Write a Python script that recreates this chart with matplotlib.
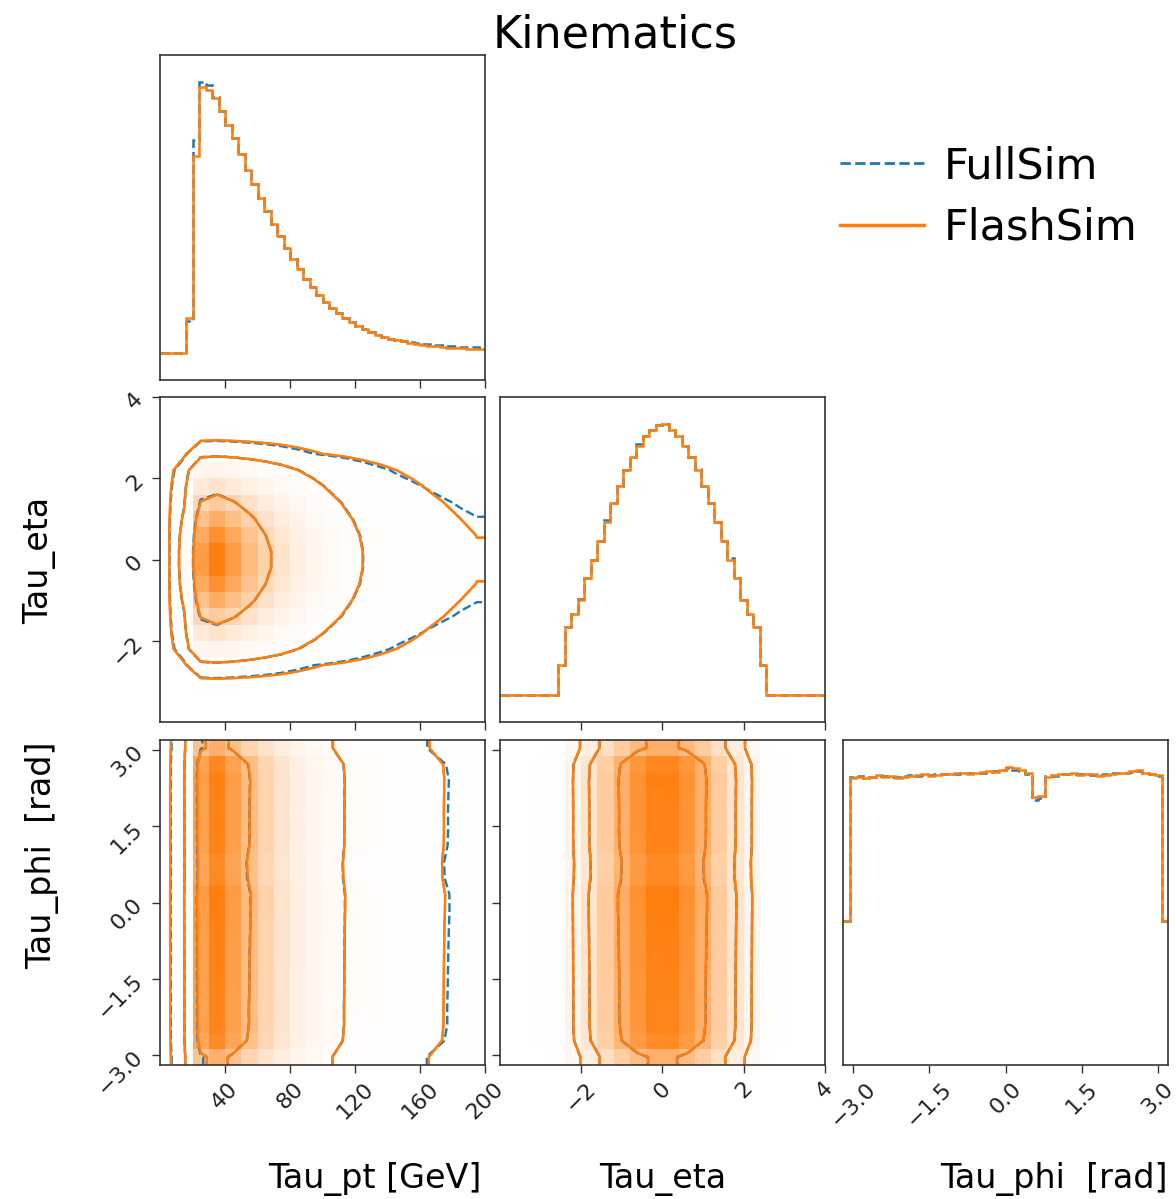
import numpy as np
import matplotlib
matplotlib.use("Agg")
import matplotlib.pyplot as plt
from matplotlib.colors import LinearSegmentedColormap
from matplotlib.lines import Line2D

# 1D histogram contents (50 bins each), peak ~ 1
pt_edges = np.linspace(0, 200, 51)
pt_flash = [0, 0, 0, 0, 0.13, 0.74, 1.00, 0.99, 0.96, 0.91,
            0.86, 0.81, 0.75, 0.69, 0.635, 0.585, 0.535, 0.485, 0.44, 0.395,
            0.355, 0.315, 0.28, 0.248, 0.22, 0.193, 0.17, 0.149, 0.131, 0.115,
            0.101, 0.089, 0.078, 0.069, 0.061, 0.054, 0.048, 0.043, 0.038, 0.034,
            0.030, 0.027, 0.025, 0.022, 0.020, 0.019, 0.017, 0.016, 0.015, 0.014]
pt_full = [0, 0, 0, 0, 0.12, 0.80, 1.02, 1.01, 0.965, 0.91,
           0.86, 0.81, 0.75, 0.69, 0.635, 0.585, 0.535, 0.485, 0.44, 0.395,
           0.355, 0.315, 0.28, 0.248, 0.22, 0.193, 0.17, 0.149, 0.131, 0.115,
           0.101, 0.089, 0.078, 0.069, 0.061, 0.054, 0.049, 0.045, 0.041, 0.038,
           0.035, 0.032, 0.030, 0.028, 0.026, 0.025, 0.023, 0.022, 0.021, 0.020]

eta_edges = np.linspace(-4, 4, 51)
eta_flash = [0, 0, 0, 0, 0, 0, 0, 0, 0, 0.11,
             0.25, 0.30, 0.35, 0.43, 0.50, 0.57, 0.64, 0.71, 0.77, 0.83,
             0.88, 0.92, 0.955, 0.98, 0.997, 1.00, 0.98, 0.955, 0.92, 0.88,
             0.83, 0.77, 0.71, 0.64, 0.57, 0.50, 0.43, 0.35, 0.30, 0.25,
             0.11, 0, 0, 0, 0, 0, 0, 0, 0, 0]
eta_full = [0, 0, 0, 0, 0, 0, 0, 0, 0, 0.11,
            0.25, 0.30, 0.355, 0.43, 0.50, 0.57, 0.645, 0.71, 0.77, 0.83,
            0.88, 0.925, 0.955, 0.98, 0.995, 1.00, 0.98, 0.955, 0.92, 0.88,
            0.835, 0.77, 0.71, 0.64, 0.57, 0.505, 0.43, 0.35, 0.30, 0.25,
            0.11, 0, 0, 0, 0, 0, 0, 0, 0, 0]

phi_edges = np.linspace(-3.2, 3.2, 51)
phi_flash = [0.43, 0.955, 0.96, 0.955, 0.958, 0.965, 0.96, 0.962, 0.955, 0.96,
             0.963, 0.965, 0.968, 0.962, 0.966, 0.97, 0.968, 0.972, 0.975, 0.97,
             0.973, 0.976, 0.98, 0.978, 0.985, 0.995, 0.99, 0.985, 0.975, 0.885,
             0.89, 0.96, 0.965, 0.97, 0.968, 0.972, 0.966, 0.97, 0.968, 0.962,
             0.966, 0.97, 0.975, 0.972, 0.98, 0.985, 0.975, 0.968, 0.965, 0.43]
phi_full = [0.43, 0.958, 0.962, 0.955, 0.96, 0.963, 0.962, 0.96, 0.957, 0.962,
            0.965, 0.963, 0.966, 0.965, 0.968, 0.968, 0.97, 0.97, 0.972, 0.972,
            0.975, 0.975, 0.978, 0.98, 0.983, 0.99, 0.985, 0.98, 0.97, 0.875,
            0.88, 0.962, 0.963, 0.968, 0.97, 0.97, 0.968, 0.968, 0.966, 0.965,
            0.968, 0.972, 0.972, 0.975, 0.978, 0.98, 0.972, 0.97, 0.962, 0.43]

pt_ticks = [40, 80, 120, 160, 200]
pt_ticklabels = ["40", "80", "120", "160", "200"]
eta_ticks = [-2, 0, 2, 4]
eta_ticklabels = ["\u22122", "0", "2", "4"]
phi_ticks = [-3.0, -1.5, 0.0, 1.5, 3.0]
phi_ticklabels = ["\u22123.0", "\u22121.5", "0.0", "1.5", "3.0"]

series = ["FullSim", "FlashSim"]
BLUE = "#1f77b4"
ORANGE = "#ff7f0e"
LEVELS_PT = [0.5, 0.9, 0.99]
LEVELS_ETAPHI = [0.62, 0.86, 0.94]
SMOOTH = 0.5
BINS2D = 20

W, H = 1176, 1199
fig = plt.figure(figsize=(W / 100, H / 100), dpi=100)


def add_ax(x0, ytop, w=325, h=325):
    return fig.add_axes([x0 / W, 1 - (ytop + h) / H, w / W, h / H])


ax_pt = add_ax(160, 55)
ax_pe = add_ax(160, 397)
ax_eta = add_ax(500, 397)
ax_pp = add_ax(160, 740)
ax_ep = add_ax(500, 740)
ax_phi = add_ax(843, 740)


def rebin(v, edges, new_edges):
    # coarser 2D binning: regroup the counts through the cumulative sum
    c = np.concatenate([[0.0], np.cumsum(v)])
    return np.diff(np.interp(new_edges, edges, c))


def gsmooth(h, s):
    r = int(np.ceil(4 * s))
    k = np.exp(-0.5 * (np.arange(-r, r + 1) / s) ** 2)
    k /= k.sum()
    hp = np.pad(h, r, mode="symmetric")
    t = np.apply_along_axis(lambda v: np.convolve(v, k, mode="valid"), 0, hp)
    return np.apply_along_axis(lambda v: np.convolve(v, k, mode="valid"), 1, t)


dens_cmap = LinearSegmentedColormap.from_list("dens", [ORANGE, (1, 1, 1, 0)])


def hist2d(ax, xe, ye, hx, hy, levels, color, ls, density):
    xe2 = np.linspace(xe[0], xe[-1], BINS2D + 1)
    ye2 = np.linspace(ye[0], ye[-1], BINS2D + 1)
    Hh = np.outer(rebin(hx, xe, xe2), rebin(hy, ye, ye2))
    Hh = gsmooth(Hh, SMOOTH)
    flat = np.sort(Hh.ravel())[::-1]
    cs = np.cumsum(flat)
    cs /= cs[-1]
    V = np.sort([flat[cs <= lv][-1] for lv in levels])
    xc = 0.5 * (xe2[1:] + xe2[:-1])
    yc = 0.5 * (ye2[1:] + ye2[:-1])
    H2 = Hh.min() + np.zeros((Hh.shape[0] + 4, Hh.shape[1] + 4))
    H2[2:-2, 2:-2] = Hh
    H2[2:-2, 1] = Hh[:, 0]
    H2[2:-2, -2] = Hh[:, -1]
    H2[1, 2:-2] = Hh[0]
    H2[-2, 2:-2] = Hh[-1]
    H2[1, 1] = Hh[0, 0]
    H2[1, -2] = Hh[0, -1]
    H2[-2, 1] = Hh[-1, 0]
    H2[-2, -2] = Hh[-1, -1]
    dx, dy = xc[1] - xc[0], yc[1] - yc[0]
    X2 = np.concatenate([xc[0] + np.array([-2, -1]) * dx, xc, xc[-1] + np.array([1, 2]) * dx])
    Y2 = np.concatenate([yc[0] + np.array([-2, -1]) * dy, yc, yc[-1] + np.array([1, 2]) * dy])
    if density:
        ax.pcolormesh(xe2, ye2, Hh.max() - Hh.T, cmap=dens_cmap, zorder=0)
    ax.contour(X2, Y2, H2.T, V, colors=color, linestyles=ls, linewidths=1.7)


# 1D diagonals
for ax, edges, full, flash in [(ax_pt, pt_edges, pt_full, pt_flash),
                               (ax_eta, eta_edges, eta_full, eta_flash),
                               (ax_phi, phi_edges, phi_full, phi_flash)]:
    ax.stairs(full, edges, baseline=None, color=BLUE, ls="--", lw=1.8)
    ax.stairs(flash, edges, baseline=None, color=ORANGE, lw=1.8)
    m = max(max(full), max(flash))
    ax.set_ylim(-0.1 * m, 1.1 * m)
    ax.set_xlim(edges[0], edges[-1])
    ax.set_yticks([])

# 2D panels
for ax, xe, ye, xf, yf, xs, ys, lv in [
        (ax_pe, pt_edges, eta_edges, pt_full, eta_full, pt_flash, eta_flash, LEVELS_PT),
        (ax_pp, pt_edges, phi_edges, pt_full, phi_full, pt_flash, phi_flash, LEVELS_PT),
        (ax_ep, eta_edges, phi_edges, eta_full, phi_full, eta_flash, phi_flash, LEVELS_ETAPHI)]:
    hist2d(ax, xe, ye, xs, ys, lv, ORANGE, "-", True)
    hist2d(ax, xe, ye, xf, yf, lv, BLUE, "--", False)
    hist2d(ax, xe, ye, xs, ys, lv, ORANGE, "-", False)
    ax.set_xlim(xe[0], xe[-1])
    ax.set_ylim(ye[0], ye[-1])

for ax in fig.axes:
    ax.tick_params(direction="out", length=6, width=1, labelsize=16,
                   color="#333333", labelcolor="#222222")
    for s in ax.spines.values():
        s.set_linewidth(1.2)
        s.set_color("#333333")

ax_pt.set_xticks(pt_ticks, [])
ax_pe.set_xticks(pt_ticks, [])
ax_pe.set_yticks(eta_ticks, eta_ticklabels, rotation=45)
ax_eta.set_xticks(eta_ticks, [])
ax_pp.set_xticks(pt_ticks, pt_ticklabels, rotation=45)
ax_pp.set_yticks(phi_ticks, phi_ticklabels, rotation=45)
ax_ep.set_xticks(eta_ticks, eta_ticklabels, rotation=45)
ax_ep.set_yticks(phi_ticks, [])
ax_phi.set_xticks(phi_ticks, phi_ticklabels, rotation=45)

# axis labels
fig.text(375 / W, 1 - 1188 / H, "Tau_pt [GeV]", fontsize=24, ha="center", va="baseline")
fig.text(663 / W, 1 - 1188 / H, "Tau_eta", fontsize=24, ha="center", va="baseline")
fig.text(1054 / W, 1 - 1188 / H, "Tau_phi  [rad]", fontsize=24, ha="center", va="baseline")
fig.text(40 / W, 1 - 560 / H, "Tau_eta", fontsize=24, rotation=90, ha="center", va="center")
fig.text(42 / W, 1 - 855 / H, "Tau_phi  [rad]", fontsize=24, rotation=90, ha="center", va="center")

fig.text(615 / W, 1 - 48 / H, "Kinematics", fontsize=32, ha="center", va="baseline")

handles = [Line2D([], [], color=BLUE, ls="--", lw=2),
           Line2D([], [], color=ORANGE, lw=2.5)]
fig.legend(handles, series, loc="center left", bbox_to_anchor=(840 / W, 1 - 197 / H),
           frameon=False, fontsize=31, borderpad=0, borderaxespad=0,
           handlelength=1.95, handletextpad=0.45, labelspacing=0.45)

fig.savefig("out.png", dpi=100)
